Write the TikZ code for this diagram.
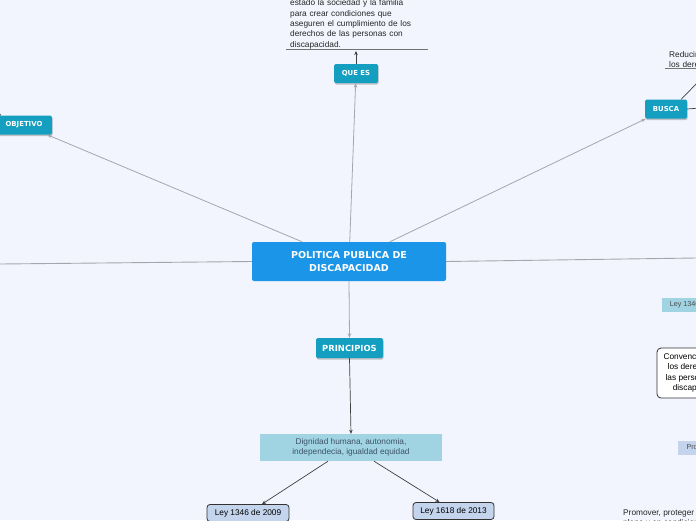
\documentclass[tikz,border=0pt]{standalone}
\usepackage{fontspec}
\setmainfont{Liberation Sans}
\newfontfamily\titlefont{DejaVu Sans}
\usetikzlibrary{positioning}
\usetikzlibrary{arrows.meta}
\usetikzlibrary{shadows}
\definecolor{fondo}{HTML}{F3F5FE}
\definecolor{azul}{HTML}{1B95E8}
\definecolor{turquesa}{HTML}{149EBF}
\definecolor{celeste}{HTML}{A0D4E2}
\definecolor{lila}{HTML}{C3D4EC}
\definecolor{gris}{HTML}{A4A6AE}
\definecolor{tinta}{HTML}{3E5366}
\tikzset{raiz/.style = {fill=azul, rounded corners=2pt, text=white,
                        align=center, minimum width=194pt, minimum height=39pt,
                        font=\titlefont\bfseries\fontsize{9.5}{13}\selectfont},
         rama/.style = {fill=turquesa, rounded corners=1.5pt, text=white,
                        inner sep=0pt, minimum height=19pt,
                        drop shadow={shadow xshift=0.6pt, shadow yshift=-1.6pt,
                                     opacity=0.45, fill=gray},
                        font=\titlefont\bfseries\fontsize{6.9}{8}\selectfont},
         texto/.style = {align=left, inner sep=0pt, text=black!85,
                         font=\fontsize{8.3}{10.3}\selectfont},
         ley/.style = {fill=lila, draw=black!80, line width=0.8pt,
                       rounded corners=3pt, inner sep=0pt, minimum height=17pt,
                       font=\fontsize{8.3}{10}\selectfont},
         etiqueta/.style = {inner sep=0pt, text=black!70, minimum height=14pt,
                            font=\fontsize{7.2}{8}\selectfont},
         enlace/.style = {draw=gris, line width=0.8pt,
                          -{Stealth[length=4.5pt,width=3.5pt]}},
         liso/.style = {draw=gris, line width=0.9pt},
         flecha/.style = {draw=black!75, line width=0.7pt,
                          -{Stealth[length=4pt,width=3.5pt]}}}

\begin{document}
\begin{tikzpicture}[x=1pt, y=-1pt]
    \useasboundingbox (0, 0) rectangle (696, 520);
    \clip (0, 0) rectangle (696, 520);
    \fill [fondo] (0, 0) rectangle (696, 520);
    \node [raiz] (politica) at (349, 261.5) {POLITICA PUBLICA DE\\DISCAPACIDAD};
    \node [rama, minimum width=44pt] (quees) at (356, 73.5) {QUE ES};
    \node [rama, minimum width=42pt] (busca) at (666, 109) {BUSCA};
    \node [rama, minimum width=56pt] (objetivo) at (24, 125) {OBJETIVO};
    \node [rama, minimum width=67pt, minimum height=20pt,
           font=\titlefont\bfseries\fontsize{8.4}{9}\selectfont]
          (principios) at (349.5, 348) {PRINCIPIOS};
    \node [texto, text width=142pt, anchor=south west] (definicion) at (286, 49)
          {\hspace*{4pt}Es el conjunto de acciones del\\
           \hspace*{4pt}estado la sociedad y la familia\\
           \hspace*{4pt}para crear condiciones que\\
           \hspace*{4pt}aseguren el cumplimiento de los\\
           \hspace*{4pt}derechos de las personas con\\
           \hspace*{4pt}discapacidad.};
    \node [texto, text width=220pt, anchor=south west] (reducir) at (665, 68)
          {\hspace*{4pt}Reducir las barreras y garantizar\\
           \hspace*{4pt}los derechos};
    \node [fill=celeste, text=tinta, align=center, minimum width=182pt,
           minimum height=27pt, inner sep=0pt,
           font=\fontsize{8.3}{10.5}\selectfont]
          (dignidad) at (351, 447.5) {Dignidad humana, autonomia,\\
                                      independecia, igualdad equidad};
    \node [ley, minimum width=82pt] (ley1346) at (248, 513) {Ley 1346 de 2009};
    \node [ley, minimum width=81pt] (ley1618) at (453.5, 511) {Ley 1618 de 2013};
    \node [etiqueta, fill=celeste, anchor=west, minimum width=70pt]
          (leyderecha) at (662, 305) {\hspace*{3pt}Ley 1346 de 2009\hfill};
    \node [fill=white, draw=black!80, line width=0.8pt, rounded corners=4pt,
           minimum width=80pt, minimum height=50pt, inner sep=0pt, align=center,
           font=\fontsize{8.3}{10.5}\selectfont]
          (convencion) at (697, 373) {Convencion sobre\\ los derechos de\\
                                      las personas con\\ discapacidad};
    \node [etiqueta, fill=lila, anchor=west, minimum width=44pt]
          (proposito) at (678, 447.5) {\hspace*{3pt}Proposito\hfill};
    \node [texto, anchor=north west] (promover) at (623, 509)
          {Promover, proteger y asegurar el goce\\
           pleno y en condiciones de igualdad};
    \coordinate (izquierda) at (0, 264);
    \coordinate (derecha) at (696, 258);
    \coordinate (definicionpie) at (356, 51);
    \coordinate (buscaarriba) at (700, 80);
    \coordinate (buscalado) at (700, 108);
    \coordinate (objetivoarriba) at (-4, 109);
    \draw [liso] (politica.west) -- (izquierda);
    \draw [liso] (politica.east) -- (derecha);
    \draw [enlace] (politica) -- (quees);
    \draw [enlace] (politica) -- (busca);
    \draw [enlace] (politica) -- (objetivo);
    \draw [enlace] (politica.south) -- (principios.north);
    \draw [flecha] (quees.north) -- (definicionpie);
    \draw [draw=black!55, line width=0.6pt] (definicion.south west) -- (definicion.south east);
    \draw [draw=black!55, line width=0.6pt] (reducir.south west) -- ++(40, 0);
    \draw [draw=black!75, line width=0.7pt] ([xshift=-6pt]busca.north east) -- (buscaarriba);
    \draw [draw=black!75, line width=0.7pt] (busca.east) -- (buscalado);
    \draw [draw=black!75, line width=0.7pt] ([xshift=5pt]objetivo.north west) -- (objetivoarriba);
    \draw [flecha] (principios.south) -- (dignidad.north);
    \draw [flecha] ([xshift=-23pt]dignidad.south) -- ([xshift=14pt]ley1346.north);
    \draw [flecha] ([xshift=23pt]dignidad.south) -- ([xshift=-14pt]ley1618.north);
  \end{tikzpicture}
\end{document}
